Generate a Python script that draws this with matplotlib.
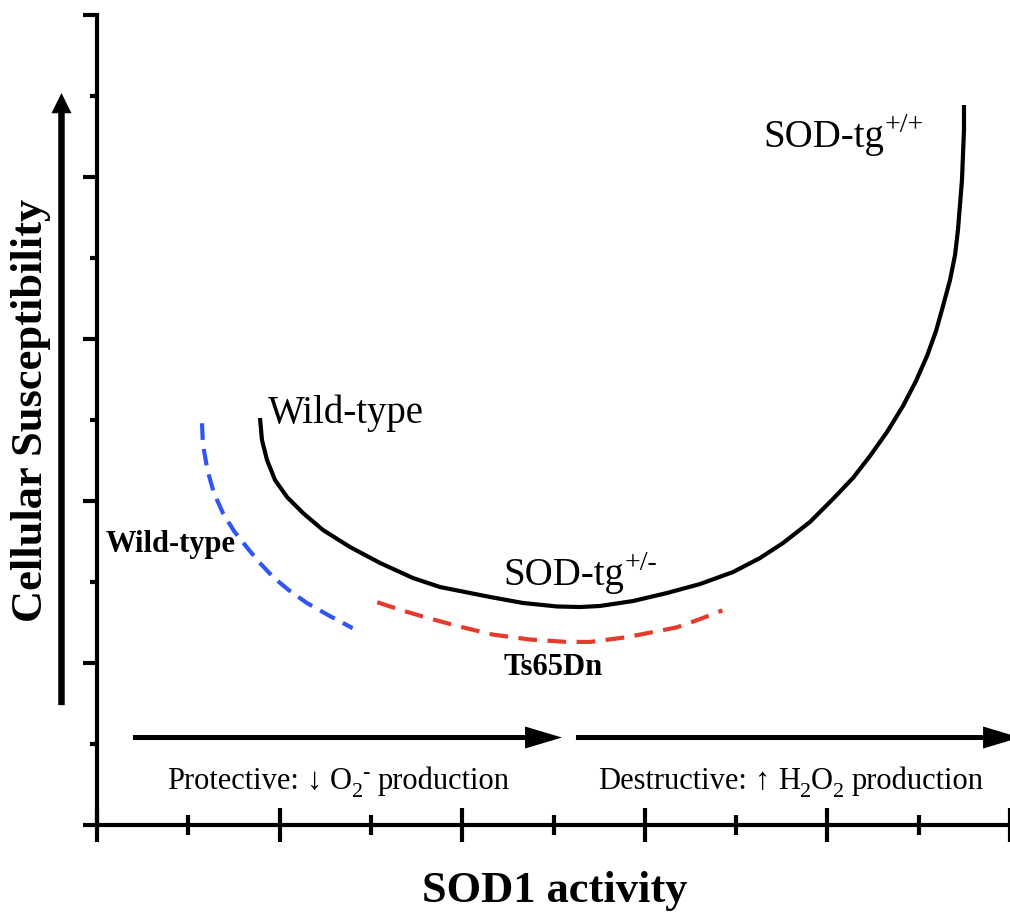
import numpy as np
import matplotlib
matplotlib.use("Agg")
import matplotlib.pyplot as plt
from matplotlib.ticker import MultipleLocator

plt.rcParams['font.family'] = ['Liberation Serif', 'DejaVu Serif']

# curves (SOD1 activity, susceptibility)
wt_sod_x = [1.785, 1.807, 1.862, 1.950, 2.081, 2.256, 2.475, 2.771, 3.100, 3.461,
            3.757, 4.305, 4.666, 5.038, 5.290, 5.509, 5.871, 6.243, 6.605, 6.966,
            7.262, 7.514, 7.809, 8.061, 8.280, 8.467, 8.653, 8.828, 8.970, 9.091,
            9.190, 9.266, 9.343, 9.398, 9.430, 9.452, 9.474, 9.485, 9.496, 9.496]
wt_sod_y = [5.025, 4.753, 4.506, 4.259, 4.049, 3.852, 3.642, 3.432, 3.235, 3.049,
            2.938, 2.815, 2.741, 2.698, 2.691, 2.704, 2.765, 2.864, 2.975, 3.123,
            3.296, 3.481, 3.741, 4.025, 4.284, 4.556, 4.852, 5.173, 5.481, 5.790,
            6.099, 6.407, 6.728, 7.037, 7.346, 7.654, 7.963, 8.272, 8.580, 8.889]

ts65_x = [3.07, 3.34, 3.61, 3.97, 4.34, 4.74, 5.15, 5.40, 5.81, 6.08, 6.35, 6.60, 6.85]
ts65_y = [2.75, 2.65, 2.56, 2.45, 2.35, 2.29, 2.26, 2.26, 2.32, 2.38, 2.44, 2.54, 2.65]

wt_x = [1.15, 1.16, 1.21, 1.28, 1.38, 1.50, 1.64, 1.78, 1.93, 2.10, 2.30, 2.55, 2.80]
wt_y = [4.96, 4.70, 4.38, 4.10, 3.85, 3.63, 3.43, 3.24, 3.06, 2.90, 2.74, 2.58, 2.43]

W, H, DPI = 1010, 914, 100
fig = plt.figure(figsize=(W/DPI, H/DPI), dpi=DPI)
ax = fig.add_axes([97/W, 1-825/H, (W-97)/W, (825-15)/H])
ax.set_xlim(0, 10)
ax.set_ylim(0, 10)

for s in ['top', 'right']:
    ax.spines[s].set_visible(False)
for s in ['left', 'bottom']:
    ax.spines[s].set_linewidth(3)

ax.xaxis.set_major_locator(MultipleLocator(2))
ax.xaxis.set_minor_locator(MultipleLocator(1))
ax.yaxis.set_major_locator(MultipleLocator(2))
ax.yaxis.set_minor_locator(MultipleLocator(1))
ax.tick_params(axis='x', which='major', direction='inout', length=24, width=3)
ax.tick_params(axis='x', which='minor', direction='inout', length=14, width=3)
ax.tick_params(axis='y', which='major', direction='out', length=10, width=3)
ax.tick_params(axis='y', which='minor', direction='out', length=5, width=3)
ax.tick_params(labelbottom=False, labelleft=False)

ax.plot(wt_sod_x, wt_sod_y, color='black', lw=3, solid_capstyle='butt',
        solid_joinstyle='round')
ax.plot(ts65_x, ts65_y, color='#e53b2c', lw=3, dashes=(4.5, 2.5))
ax.plot(wt_x, wt_y, color='#2f55f5', lw=3, dashes=(4, 2.2))

# arrows
ax.arrow(-0.389, 1.48, 0, 9.037-1.48, width=0.071, head_width=0.22, head_length=0.25,
         length_includes_head=True, color='black', lw=0, clip_on=False)
ax.arrow(0.394, 1.08, 5.093-0.394, 0, width=0.062, head_width=0.272, head_length=0.405,
         length_includes_head=True, color='black', lw=0, clip_on=False)
ax.arrow(5.246, 1.08, 10.11-5.246, 0, width=0.062, head_width=0.272, head_length=0.405,
         length_includes_head=True, color='black', lw=0, clip_on=False)

renderer = fig.canvas.get_renderer()


def put_pieces(x, y, pieces, size, **kw):
    # write text piece by piece so sub/superscripts sit like in the original
    px, py = ax.transData.transform((x, y))
    for s, kind, gap in pieces:
        px += gap * size * DPI / 72
        fs = size
        dy = 0
        if kind == 'sub':
            fs = size * 0.72
            dy = -0.24 * size * DPI / 72
        elif kind == 'sup':
            fs = size * 0.72
            dy = 0.38 * size * DPI / 72
        t = fig.text(px/W, (py+dy)/H, s, fontsize=fs, va='baseline', **kw)
        px = t.get_window_extent(renderer).x1


# labels
ax.text(1.87, 4.96, 'Wild-type', fontsize=28, va='baseline')
put_pieces(7.30, 8.37, [('SOD-tg', 'n', 0), ('+/+', 'sup', 0)], 28)
put_pieces(4.45, 2.96, [('SOD-tg', 'n', 0), ('+/-', 'sup', 0)], 28)
ax.text(0.09, 3.37, 'Wild-type', fontsize=22, fontweight='bold', va='baseline')
ax.text(4.45, 1.85, 'Ts65Dn', fontsize=22, fontweight='bold', va='baseline')
put_pieces(0.77, 0.44, [('Protective:', 'n', 0), ('↓', 'n', 0.25), ('O', 'n', 0.25),
                        ('2', 'sub', 0), ('-', 'sup', -0.02), ('production', 'n', 0.25)], 22)
put_pieces(5.49, 0.44, [('Destructive:', 'n', 0), ('↑', 'n', 0.25), ('H', 'n', 0.25),
                        ('2', 'sub', 0), ('O', 'n', 0), ('2', 'sub', 0),
                        ('production', 'n', 0.25)], 22)

fig.text(555/W, 1-902/H, 'SOD1 activity', fontsize=32, fontweight='bold',
         ha='center', va='baseline')
fig.text(31/W, 1-410/H, 'Cellular Susceptibility', fontsize=32, fontweight='bold',
         rotation=90, ha='center', va='center')

fig.savefig('out.png', dpi=DPI)
